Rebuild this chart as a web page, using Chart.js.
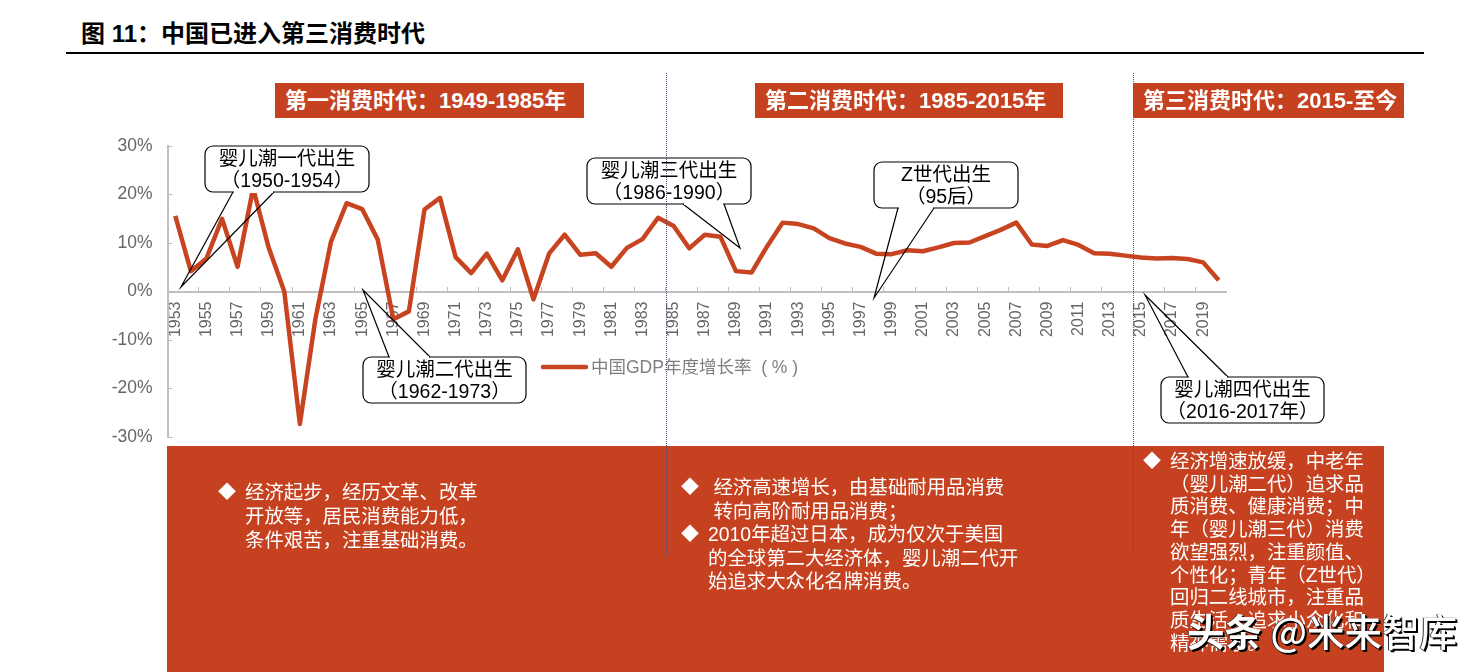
<!DOCTYPE html>
<html>
<head>
<meta charset="utf-8">
<script src="https://cdn.jsdelivr.net/npm/chart.js@4"></script>
<style>
  html, body { margin: 0; padding: 0; background: #fff; }
  #page { position: relative; width: 1478px; height: 672px; overflow: hidden; font-family: "Liberation Sans", "Noto Sans CJK SC", sans-serif; }
  #page canvas { position: absolute; left: 0; top: 0; }
  .title { position: absolute; left: 81px; top: 18px; font-size: 24px; font-weight: 700; line-height: 32px; color: #000; }
  .rule { position: absolute; left: 66px; top: 52px; width: 1358px; height: 2px; background: #000; }
  .banner { position: absolute; top: 83px; height: 35px; line-height: 36px; padding-left: 10px; box-sizing: border-box; background: #c5411f; color: #fff; font-size: 22px; font-weight: 700; white-space: nowrap; }
  .block { position: absolute; left: 167px; top: 446px; width: 1217px; height: 226px; background: #c5411f; }
  .body { position: absolute; color: #fff; font-size: 19.4px; white-space: nowrap; }
  .body .d { position: absolute; font-size: 18px; }
  .divider { position: absolute; top: 73px; height: 373px; width: 0; border-left: 1px dotted #55557a; }
  .divider.low { top: 446px; height: 110px; border-left: 1px solid #7a4a5c; }
  .mark { position: absolute; left: 1187px; top: 602px; font-size: 37.5px; line-height: 56px; color: #fff; white-space: nowrap; font-family: "Noto Sans CJK SC", sans-serif; font-weight: 500; text-shadow: 2px 2px 0 #000, 1px 1px 1px #000, -1px 0 0 #333; }
  .mark b { font-weight: 700; }
</style>
</head>
<body>
<div id="page">
  <div class="title">图 11：中国已进入第三消费时代</div>
  <div class="rule"></div>
  <div class="block"></div>
  <canvas id="myChart" width="1478" height="672"></canvas>
  <div class="banner" style="left:275px;width:309px">第一消费时代：1949-1985年</div>
  <div class="banner" style="left:755px;width:308px">第二消费时代：1985-2015年</div>
  <div class="banner" style="left:1133px;width:271px">第三消费时代：2015-至今</div>
  <div class="divider" style="left:666px"></div>
  <div class="divider" style="left:1133px"></div>
  <div class="divider low" style="left:666px"></div>
  <div class="divider low" style="left:1133px"></div>
  <div class="body" style="left:245px;top:480px;line-height:24px"><span class="d" style="left:-27px">◆</span>经济起步，经历文革、改革<br>开放等，居民消费能力低，<br>条件艰苦，注重基础消费。</div>
  <div class="body" style="left:708px;top:476px;line-height:23.6px"><span class="d" style="left:-27px">◆</span>&nbsp;经济高速增长，由基础耐用品消费<br>&nbsp;转向高阶耐用品消费；<br><span class="d" style="left:-27px">◆</span>2010年超过日本，成为仅次于美国<br>的全球第二大经济体，婴儿潮二代开<br>始追求大众化名牌消费。</div>
  <div class="body" style="left:1170px;top:450px;line-height:22.7px"><span class="d" style="left:-27px">◆</span>经济增速放缓，中老年<br>（婴儿潮二代）追求品<br>质消费、健康消费；中<br>年（婴儿潮三代）消费<br>欲望强烈，注重颜值、<br>个性化；青年（Z世代）<br>回归二线城市，注重品<br>质生活，追求小众化和<br>精神需求。</div>
  <div class="mark"><b>头条</b> @米来智库</div>
</div>
<script>
const years = [];
for (let y = 1953; y <= 2020; y++) years.push(String(y));

const gdpLabel = '中国GDP年度增长率  ( % )';
const gdpGrowth = [
  15.6, 4.2, 6.8, 15.0, 5.1, 21.3, 9.0, 0.0, -27.3, -5.6,
  10.3, 18.2, 17.0, 10.7, -5.7, -4.1, 16.9, 19.3, 7.1, 3.8,
  7.8, 2.3, 8.7, -1.6, 7.8, 11.7, 7.6, 7.9, 5.1, 9.0,
  10.8, 15.2, 13.5, 8.9, 11.7, 11.3, 4.2, 3.9, 9.3, 14.2,
  13.9, 13.0, 11.0, 9.9, 9.2, 7.8, 7.7, 8.5, 8.3, 9.1,
  10.0, 10.1, 11.4, 12.7, 14.2, 9.7, 9.4, 10.6, 9.6, 7.9,
  7.8, 7.4, 7.0, 6.8, 6.9, 6.7, 6.0, 2.3
];

const red = '#c8431f';
const axisGray = '#bfbfbf';
const tickGray = '#666666';

// callouts: box, two points where the pointer leaves the box, pointer tip
const callouts = [
  { lines: ['婴儿潮一代出生', '（1950-1954）'], box: [205, 146, 164, 46], base: [233, 274], tip: [181, 287] },
  { lines: ['婴儿潮二代出生', '（1962-1973）'], box: [363, 357, 163, 46], base: [389, 430], tip: [363, 290], up: true },
  { lines: ['婴儿潮三代出生', '（1986-1990）'], box: [587, 158, 164, 46], base: [683, 724], tip: [740, 248] },
  { lines: ['Z世代出生', '（95后）'], box: [874, 162, 144, 46], base: [898, 934], tip: [874, 298] },
  { lines: ['婴儿潮四代出生', '（2016-2017年）'], box: [1161, 377, 163, 46], base: [1188, 1228], tip: [1145, 295], up: true }
];

function drawCallout(ctx, c) {
  const [x, y, w, h] = c.box;
  const edge = c.up ? y : y + h;
  ctx.beginPath();
  ctx.roundRect(x, y, w, h, 8);
  ctx.fillStyle = '#fff';
  ctx.fill();
  ctx.strokeStyle = '#000';
  ctx.lineWidth = 1.2;
  ctx.stroke();
  // pointer: white gap over the box edge, open over the chart
  ctx.beginPath();
  ctx.moveTo(c.base[0], edge);
  ctx.lineTo(c.tip[0], c.tip[1]);
  ctx.lineTo(c.base[1], edge);
  ctx.stroke();
  ctx.fillStyle = '#fff';
  ctx.fillRect(c.base[0] + 1, edge - 1, c.base[1] - c.base[0] - 2, 2);
  ctx.fillStyle = '#000';
  ctx.textAlign = 'center';
  ctx.textBaseline = 'middle';
  ctx.font = '19.5px "Liberation Sans", "Noto Sans CJK SC", sans-serif';
  ctx.fillText(c.lines[0], x + w / 2, y + 13.5);
  ctx.fillText(c.lines[1], x + w / 2, y + 36);
}

const overlay = {
  id: 'overlay',
  afterDraw(chart) {
    const ctx = chart.ctx;
    ctx.save();
    // legend
    ctx.strokeStyle = red;
    ctx.lineWidth = 4.5;
    ctx.lineCap = 'round';
    ctx.beginPath();
    ctx.moveTo(543, 367);
    ctx.lineTo(586, 367);
    ctx.stroke();
    ctx.lineCap = 'butt';
    ctx.fillStyle = '#7f7f7f';
    ctx.font = '17.5px "Liberation Sans", "Noto Sans CJK SC", sans-serif';
    ctx.textAlign = 'left';
    ctx.textBaseline = 'middle';
    ctx.fillText(gdpLabel, 591, 368);
    callouts.forEach(c => drawCallout(ctx, c));
    ctx.restore();
  }
};

new Chart(document.getElementById('myChart'), {
  type: 'line',
  data: {
    labels: years,
    datasets: [{
      label: gdpLabel,
      data: gdpGrowth,
      borderColor: red,
      backgroundColor: red,
      borderWidth: 4.5,
      pointRadius: 0,
      tension: 0,
      borderJoinStyle: 'round'
    }]
  },
  options: {
    responsive: false,
    animation: false,
    devicePixelRatio: 1,
    layout: { padding: { left: 107.5, right: 251.5, top: 146, bottom: 235 } },
    plugins: { legend: { display: false }, tooltip: { enabled: false } },
    scales: {
      x: {
        position: { y: 0 },
        offset: true,
        afterFit: s => { s.height = 0; },
        border: { color: axisGray, width: 2 },
        grid: {
          offset: true,
          drawOnChartArea: false,
          tickLength: -6,
          tickColor: c => (c.index % 2 === 0 ? axisGray : 'rgba(0,0,0,0)')
        },
        ticks: {
          autoSkip: false,
          minRotation: 90,
          maxRotation: 90,
          padding: 16,
          color: tickGray,
          font: { family: '"Liberation Sans"', size: 16 },
          callback(value, index) { return index % 2 === 0 ? this.getLabelForValue(value) : ''; }
        }
      },
      y: {
        min: -30,
        max: 30,
        afterFit: s => { s.width = 60; },
        border: { color: axisGray, width: 2 },
        grid: { drawOnChartArea: false, tickLength: -5, tickColor: axisGray },
        ticks: {
          stepSize: 10,
          padding: 20,
          color: tickGray,
          font: { family: '"Liberation Sans"', size: 17.5 },
          callback: v => v + '%'
        }
      }
    }
  },
  plugins: [overlay]
});
</script>
</body>
</html>
